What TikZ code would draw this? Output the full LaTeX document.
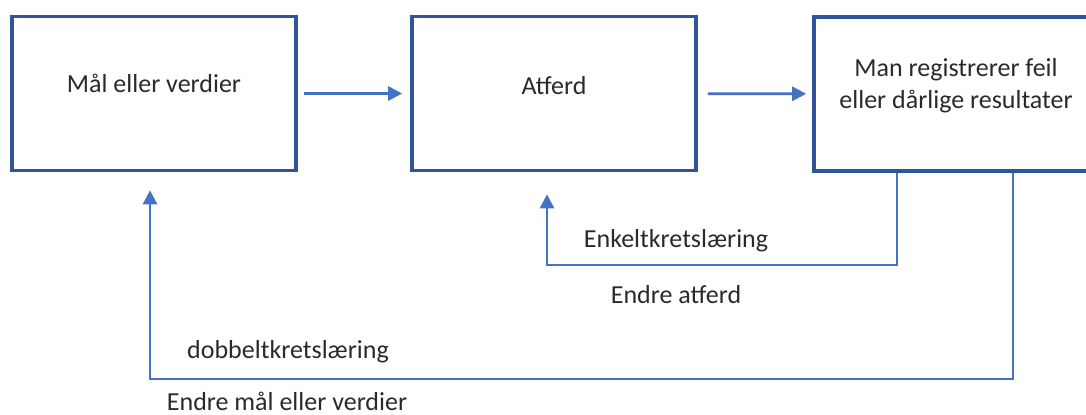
\documentclass[tikz,border=0pt]{standalone}
\usepackage{fontspec}
\setmainfont{Carlito}
\usetikzlibrary{arrows.meta}
\definecolor{boksblaa}{HTML}{2F5597}
\definecolor{pilblaa}{HTML}{4472C4}
\definecolor{tekstfarge}{HTML}{2A2A2A}

\begin{document}
\begin{tikzpicture}[x=0.5pt,y=-0.5pt,
    boks/.style={draw=boksblaa,line width=1.8pt,minimum width=142pt,minimum height=77pt,inner sep=0pt},
    tekst/.style={text=tekstfarge,font=\fontsize{13}{16}\selectfont,align=center,inner sep=0pt},
    >={Triangle[length=7pt,width=7pt]}]
    \useasboundingbox (0,0) rectangle (1086,414);
    \clip (0,0) rectangle (1086,414);

    % Bokser
    \node[boks] (M) at (154,93.5) {};
    \node[boks] (A) at (554,93.5) {};
    \node[boks] (R) at (956,94) {};
    \node[tekst] (Mt) at ([yshift=5pt]M.center) {Mål eller verdier};
    \node[tekst] (At) at ([yshift=4pt]A.center) {Atferd};
    \node[tekst] (Rt) at ([yshift=4pt]R.center) {Man registrerer feil\\eller dårlige resultater};

    % Sløyfer
    \coordinate (E1) at (897,265);
    \coordinate (E2) at (547,265);
    \coordinate (D1) at (1013,379);
    \coordinate (D2) at (150,379);

    \begin{scope}[->,draw=pilblaa]
        \draw[line width=1.4pt,shorten <=3pt,shorten >=4pt] (M) -- (A);
        \draw[line width=1.4pt,shorten <=5pt,shorten >=3pt] (A) -- (R);
        \draw[line width=1.3pt,shorten >=11pt] (R.south -| E1) -- (E1) -- (E2) -- (E2 |- A.south);
        \draw[line width=1.3pt,shorten >=9pt] (R.south -| D1) -- (D1) -- (D2) -- (D2 |- M.south);
    \end{scope}

    \begin{scope}[tekst]
        \node (Ek) at (676,241) {Enkeltkretslæring};
        \node (Ea) at (676,295) {Endre atferd};
        \node (Db) at (288,352) {dobbeltkretslæring};
        \node (Em) at (287,401) {Endre mål eller verdier};
    \end{scope}
\end{tikzpicture}
\end{document}
